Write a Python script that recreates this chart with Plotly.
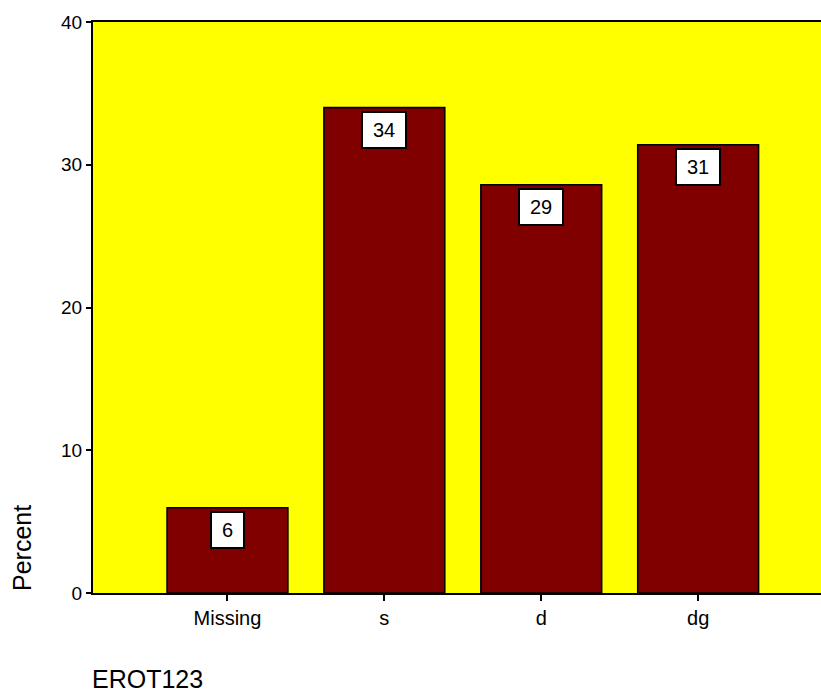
import plotly.graph_objects as go

categories = ["Missing", "s", "d", "dg"]
percent_values = [5.97, 34.0, 28.6, 31.4]
value_labels = ["6", "34", "29", "31"]
y_ticks = [0, 10, 20, 30, 40]

W, H = 821, 694
ML, MR, MT, MB = 93, 0, 22, 101
plot_w = W - ML - MR
plot_h = H - MT - MB

FONT = "Arial, 'Liberation Sans', sans-serif"

fig = go.Figure()
fig.add_trace(go.Bar(
    x=list(range(len(categories))),
    y=percent_values,
    marker=dict(color="#800000", line=dict(color="black", width=1.6)),
    hoverinfo="skip",
))

annotations = []
for i, (v, lab) in enumerate(zip(percent_values, value_labels)):
    annotations.append(dict(
        x=i, y=v, xref="x", yref="y", text=lab, showarrow=False,
        xanchor="center", yanchor="top", yshift=-3,
        font=dict(family=FONT, size=20, color="black"),
        bgcolor="white", bordercolor="black", borderwidth=2, borderpad=4,
        width=12 + 11 * len(lab), height=26,
    ))

annotations.append(dict(
    text="Percent", xref="paper", yref="paper",
    x=-71 / plot_w, y=(45) / plot_h, xanchor="center", yanchor="middle",
    textangle=-90, showarrow=False,
    font=dict(family=FONT, size=25, color="black"),
))
annotations.append(dict(
    text="EROT123", xref="paper", yref="paper",
    x=-3 / plot_w, y=-86 / plot_h, xanchor="left", yanchor="middle",
    showarrow=False,
    font=dict(family=FONT, size=25, color="black"),
))

fig.update_layout(
    width=W, height=H,
    margin=dict(l=ML, r=MR, t=MT, b=MB, pad=0),
    paper_bgcolor="white",
    plot_bgcolor="#FFFF00",
    bargap=0.23,
    showlegend=False,
    annotations=annotations,
    font=dict(family=FONT, color="black"),
    xaxis=dict(
        range=[-0.857, 3.783],
        tickvals=list(range(len(categories))),
        ticktext=categories,
        showgrid=False, zeroline=False,
        showline=True, linecolor="black", linewidth=2, mirror=True,
        ticks="outside", ticklen=6, tickwidth=2, tickcolor="black",
        tickfont=dict(family=FONT, size=20, color="black"),
        fixedrange=True,
    ),
    yaxis=dict(
        range=[0, 40],
        tickvals=y_ticks,
        ticktext=[str(t) for t in y_ticks],
        showgrid=False, zeroline=False,
        showline=True, linecolor="black", linewidth=2,
        ticks="outside", ticklen=5, tickwidth=2, tickcolor="black",
        tickfont=dict(family=FONT, size=19, color="black"),
        fixedrange=True,
    ),
)

fig.write_html("out.html", config={"displayModeBar": False},
               post_script="document.body.style.margin='0';")
